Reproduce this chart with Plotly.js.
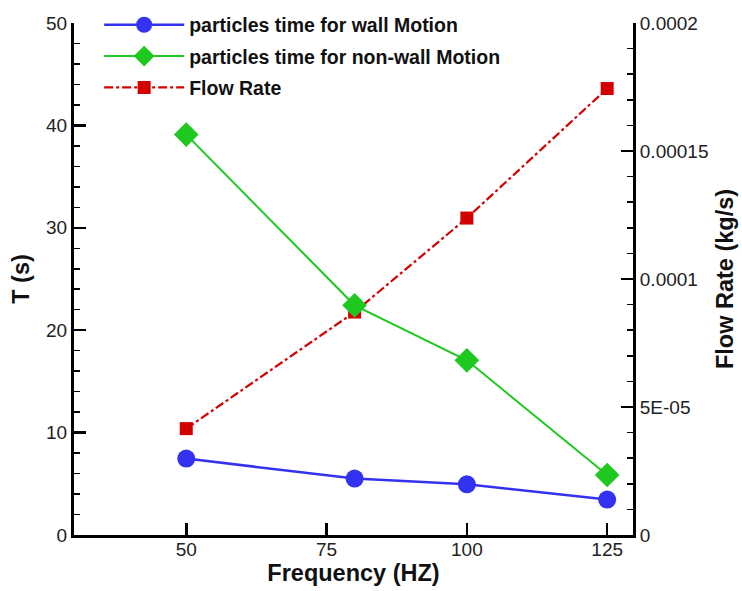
<!DOCTYPE html>
<html>
<head>
<meta charset="utf-8">
<script src="https://cdn.plot.ly/plotly-3.0.1.min.js"></script>
<style>html,body{margin:0;padding:0;background:#fff;}#chart{width:742px;height:591px;}</style>
</head>
<body>
<div id="chart"></div>
<script>
const frequency = [50, 80, 100, 125];
const wallTime = [7.46, 5.51, 4.95, 3.46];
const nonWallTime = [39.1, 22.43, 17.06, 5.86];
const flowRate = [4.156e-5, 8.71e-5, 1.238e-4, 1.744e-4];
const xTicks = [50, 75, 100, 125];
const leftTicks = [0, 10, 20, 30, 40, 50];
const rightTickVals = [0, 5e-5, 1e-4, 1.5e-4, 2e-4];
const rightTickText = ["0", "5E-05", "0.0001", "0.00015", "0.0002"];

const tickFont = {family: "Liberation Sans, Arial, sans-serif", size: 19, color: "#222"};
const titleFont = {family: "Liberation Sans, Arial, sans-serif", size: 23.5, color: "#111", weight: "bold"};

const traces = [
  {x: frequency, y: flowRate, name: "Flow Rate", yaxis: "y", mode: "lines+markers",
   line: {color: "#d40000", width: 2.2, dash: "dashdot"},
   marker: {symbol: "square", size: 13, color: "#d40000"},
   legendrank: 3, legendgroup: "c"},
  {x: frequency, y: nonWallTime, name: "particles time for non-wall Motion", yaxis: "y2", mode: "lines+markers",
   line: {color: "#1ec81e", width: 2},
   marker: {symbol: "diamond", size: 19, color: "#1ec81e"},
   legendrank: 2, legendgroup: "b"},
  {x: frequency, y: wallTime, name: "particles time for wall Motion", yaxis: "y2", mode: "lines+markers",
   line: {color: "#3232f0", width: 2.5},
   marker: {symbol: "circle", size: 18, color: "#3232f0"},
   legendrank: 1, legendgroup: "a"}
];

const layout = {
  width: 742, height: 591,
  margin: {l: 74, r: 109, t: 23, b: 56, autoexpand: false},
  paper_bgcolor: "#fff", plot_bgcolor: "#fff",
  showlegend: true,
  legend: {x: 0.045, y: 1.034, xanchor: "left", yanchor: "top", bgcolor: "rgba(0,0,0,0)",
           font: {family: "Liberation Sans, Arial, sans-serif", size: 19.5, color: "#111", weight: "bold"},
           itemwidth: 80, tracegroupgap: 3, traceorder: "grouped"},
  xaxis: {range: [30, 129.6], tickvals: xTicks, ticks: "inside", ticklen: 12, tickwidth: 2.5, tickcolor: "#000",
          showline: true, linecolor: "#000", linewidth: 3, showgrid: false, zeroline: false,
          ticklabelstandoff: -5,
          tickfont: tickFont, title: {text: "Frequency (HZ)", font: titleFont, standoff: 0}},
  yaxis: {range: [0, 2e-4], side: "right", tickvals: rightTickVals, ticktext: rightTickText,
          ticks: "inside", ticklen: 12, tickwidth: 2.5, tickcolor: "#000",
          minor: {dtick: 1e-5, ticks: "inside", ticklen: 6, tickwidth: 1.5, tickcolor: "#000", showgrid: false},
          showline: true, linecolor: "#000", linewidth: 3, showgrid: false, zeroline: false,
          tickfont: tickFont, title: {text: "Flow Rate (kg/s)", font: titleFont, standoff: 10}},
  yaxis2: {range: [0, 50], side: "left", overlaying: "y", tickvals: leftTicks,
           ticks: "inside", ticklen: 12, tickwidth: 2.5, tickcolor: "#000",
           minor: {dtick: 2, ticks: "inside", ticklen: 6, tickwidth: 1.5, tickcolor: "#000", showgrid: false},
           showline: true, linecolor: "#000", linewidth: 3, showgrid: false, zeroline: false,
           tickfont: tickFont, title: {text: "T (s)", font: titleFont, standoff: 10}}
};

Plotly.newPlot("chart", traces, layout, {displayModeBar: false, staticPlot: true});
</script>
</body>
</html>
